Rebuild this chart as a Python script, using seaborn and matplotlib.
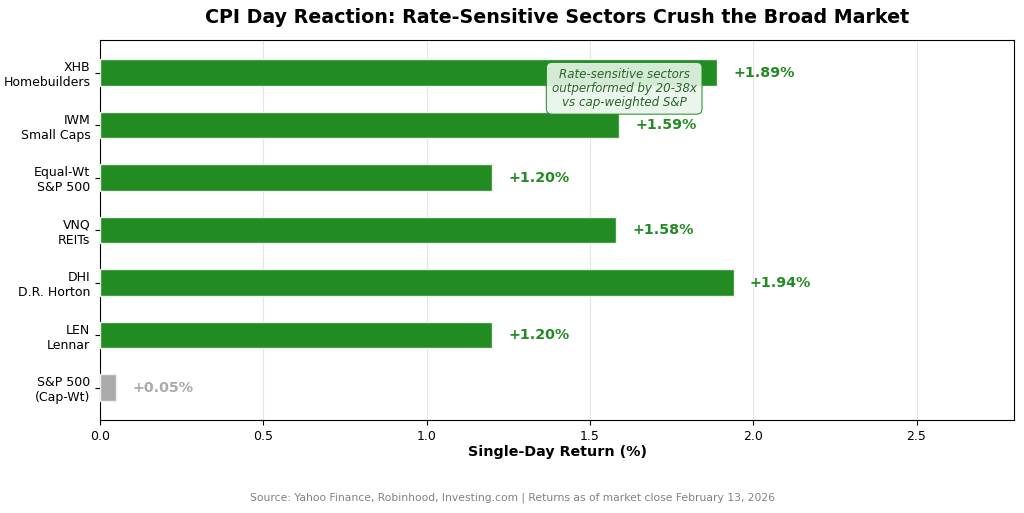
import matplotlib
matplotlib.use("Agg")
import matplotlib.pyplot as plt
import seaborn as sns
import pandas as pd

plt.rcParams["font.family"] = ["DejaVu Sans"]

categories = ["XHB\nHomebuilders", "IWM\nSmall Caps", "Equal-Wt\nS&P 500", "VNQ\nREITs",
              "DHI\nD.R. Horton", "LEN\nLennar", "S&P 500\n(Cap-Wt)"]
returns = [1.89, 1.59, 1.20, 1.58, 1.94, 1.20, 0.05]
bar_colors = ["#228B22", "#228B22", "#228B22", "#228B22", "#228B22", "#228B22", "#aaaaaa"]
value_labels = ["+1.89%", "+1.59%", "+1.20%", "+1.58%", "+1.94%", "+1.20%", "+0.05%"]

df = pd.DataFrame({"name": categories, "ret": returns})

fig = plt.figure(figsize=(10.24, 5.13), dpi=100)
ax = fig.add_axes([0.0977, 0.181, 0.893, 0.741])

sns.barplot(data=df, x="ret", y="name", hue="name", palette=bar_colors, legend=False,
            width=0.5, edgecolor="#f0f0f0", linewidth=1, orient="h", ax=ax,
            saturation=1, zorder=3)

for i, (v, lab, c) in enumerate(zip(returns, value_labels, bar_colors)):
    ax.text(v + 0.05, i, lab, va="center", ha="left", fontsize=10.3,
            fontweight="bold", color=c)

ax.set_xlim(0, 2.8)
ax.set_ylim(6.62, -0.62)
ax.grid(axis="x", color="#cccccc", alpha=0.5, linewidth=0.8, zorder=0)
ax.set_axisbelow(True)
ax.set_ylabel("")
ax.set_xlabel("Single-Day Return (%)", fontsize=10.3, fontweight="bold", labelpad=1.5)
ax.tick_params(axis="both", labelsize=9)
for s in ax.spines.values():
    s.set_visible(True)
    s.set_color("black")
    s.set_linewidth(0.8)

ax.set_title("CPI Day Reaction: Rate-Sensitive Sectors Crush the Broad Market",
             fontsize=13.7, fontweight="bold", pad=12.5)

ax.text(1.605, 0.3, "Rate-sensitive sectors\noutperformed by 20-38x\nvs cap-weighted S&P",
        ha="center", va="center", fontsize=8.6, style="italic", color="#2a642a",
        linespacing=1.1,
        bbox=dict(boxstyle="round,pad=0.45", facecolor="#e8f5e9", edgecolor="#228B22",
                  alpha=0.9, linewidth=0.8), zorder=5)

fig.text(0.5, 0.029, "Source: Yahoo Finance, Robinhood, Investing.com | Returns as of market close February 13, 2026",
         ha="center", va="center", fontsize=7.75, color="gray")

fig.savefig("out.png", dpi=100)
